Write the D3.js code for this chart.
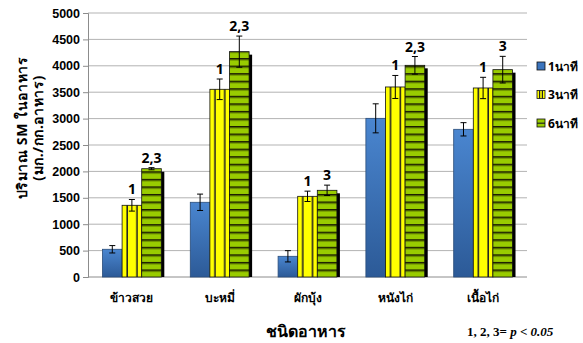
<!DOCTYPE html>
<html>
<head>
<meta charset="utf-8">
<script src="https://cdn.jsdelivr.net/npm/d3@7"></script>
<style>
  html, body { margin: 0; padding: 0; background: #fff; }
  svg { display: block; font-family: "Noto Sans", "DejaVu Sans", sans-serif; }
</style>
</head>
<body>
<svg id="chart" width="583" height="343"></svg>
<script>
// Foods and exposure times
const categories = ["ข้าวสวย", "บะหมี่", "ผักบุ้ง", "หนังไก่", "เนื้อไก่"];
const seriesNames = ["1นาที", "3นาที", "6นาที"];
// SM content (mg/kg food), mean per series
const values1 = [525, 1415, 392, 3005, 2797];
const values3 = [1358, 3555, 1528, 3599, 3580];
const values6 = [2051, 4268, 1642, 4009, 3927];
// error bar half-widths
const errors1 = [70, 155, 107, 275, 126];
const errors3 = [110, 195, 98, 218, 202];
const errors6 = [20, 295, 98, 167, 252];
// significance labels
const sig3 = ["1", "1", "1", "1", "1"];
const sig6 = ["2,3", "2,3", "3", "2,3", "3"];
const yTicks = [0, 500, 1000, 1500, 2000, 2500, 3000, 3500, 4000, 4500, 5000];

const svg = d3.select("#chart");
const margin = { left: 88, right: 56, top: 13, bottom: 66 };
const W = 583, H = 343;
const x0 = d3.scaleBand().domain(categories).range([margin.left, W - margin.right]).paddingInner(0.33).paddingOuter(0.165);
const x1 = d3.scaleBand().domain(seriesNames).range([0, x0.bandwidth()]).padding(0);
const y = d3.scaleLinear().domain([0, 5000]).range([H - margin.bottom, margin.top]);

const defs = svg.append("defs");
const blueGrad = defs.append("linearGradient").attr("id", "blueGrad").attr("x1", 0).attr("x2", 0).attr("y1", 0).attr("y2", 1);
blueGrad.append("stop").attr("offset", "0%").attr("stop-color", "#4a86d0");
blueGrad.append("stop").attr("offset", "100%").attr("stop-color", "#2c5a97");

// vertical stripes for the 3-minute bars
const ypat = defs.append("pattern").attr("id", "yellowStripes").attr("patternUnits", "objectBoundingBox")
  .attr("width", 1).attr("height", 1).attr("patternContentUnits", "objectBoundingBox");
ypat.append("rect").attr("width", 1).attr("height", 1).attr("fill", "#ffff00");
ypat.append("rect").attr("x", 0.22).attr("width", 0.08).attr("height", 1).attr("fill", "#222");
ypat.append("rect").attr("x", 0.72).attr("width", 0.08).attr("height", 1).attr("fill", "#222");

// horizontal stripes for the 6-minute bars
const gpat = defs.append("pattern").attr("id", "greenStripes").attr("patternUnits", "userSpaceOnUse")
  .attr("width", 10).attr("height", 7.55).attr("y", y(0));
gpat.append("rect").attr("width", 10).attr("height", 7.55).attr("fill", "#99cc00");
gpat.append("rect").attr("y", 0).attr("width", 10).attr("height", 1.6).attr("fill", "#1a1a00");
gpat.append("rect").attr("y", 1.6).attr("width", 10).attr("height", 0.8).attr("fill", "#5c7a00");

const fills = ["url(#blueGrad)", "url(#yellowStripes)", "url(#greenStripes)"];
const legendFills = ["#3b74bd", "url(#yellowLegend)", "url(#greenLegend)"];

// gridlines
svg.append("g").selectAll("line").data(yTicks.filter(d => d > 0)).join("line")
  .attr("x1", margin.left).attr("x2", W - margin.right)
  .attr("y1", d => y(d)).attr("y2", d => y(d))
  .attr("stroke", "#b3b3b3").attr("stroke-width", 1);

// y axis
const yAxis = svg.append("g").attr("transform", `translate(${margin.left},0)`)
  .call(d3.axisLeft(y).tickValues(yTicks).tickSize(5).tickPadding(3).tickFormat(d3.format("d")));
yAxis.select(".domain").attr("stroke", "#8c8c8c");
yAxis.selectAll(".tick line").attr("stroke", "#8c8c8c");
yAxis.selectAll("text").attr("font-family", "'Liberation Sans', Arial, sans-serif")
  .attr("font-size", 12.5).attr("font-weight", "bold").attr("fill", "#000");

// x axis
const xAxis = svg.append("g").attr("transform", `translate(0,${y(0)})`)
  .call(d3.axisBottom(x0).tickSize(0).tickPadding(16));
xAxis.select(".domain").attr("stroke", "#8c8c8c").attr("d", `M${margin.left},0H${W - margin.right}`);
xAxis.selectAll("text").attr("font-size", 12).attr("font-weight", "bold").attr("fill", "#000");

const seriesVals = [values1, values3, values6];
const seriesErr = [errors1, errors3, errors6];
const rows = [];
categories.forEach((c, i) => seriesNames.forEach((s, j) => rows.push({ c, s, j, v: seriesVals[j][i], e: seriesErr[j][i], i })));

const bw = x1.bandwidth();
const bars = svg.append("g");
// shadows
bars.selectAll("rect.shadow").data(rows.filter(d => d.j === 2)).join("rect")
  .attr("class", "shadow")
  .attr("x", d => x0(d.c) + x1(d.s) + 3).attr("y", d => y(d.v) + 3)
  .attr("width", bw).attr("height", d => y(0) - y(d.v) - 3)
  .attr("fill", "#000");
bars.selectAll("rect.bar").data(rows).join("rect")
  .attr("class", "bar")
  .attr("x", d => x0(d.c) + x1(d.s)).attr("y", d => y(d.v))
  .attr("width", bw).attr("height", d => y(0) - y(d.v))
  .attr("fill", d => fills[d.j])
  .attr("stroke", d => d.j === 0 ? "#2a4d7a" : "#111").attr("stroke-width", 0.8);

// error bars
const eb = svg.append("g").attr("stroke", "#000").attr("stroke-width", 1);
rows.forEach(d => {
  const cx = x0(d.c) + x1(d.s) + bw / 2;
  eb.append("line").attr("x1", cx).attr("x2", cx).attr("y1", y(d.v + d.e)).attr("y2", y(d.v - d.e));
  eb.append("line").attr("x1", cx - 3).attr("x2", cx + 3).attr("y1", y(d.v + d.e)).attr("y2", y(d.v + d.e));
  eb.append("line").attr("x1", cx - 3).attr("x2", cx + 3).attr("y1", y(d.v - d.e)).attr("y2", y(d.v - d.e));
});

// significance labels
const sigRows = [];
categories.forEach((c, i) => {
  sigRows.push({ c, s: seriesNames[1], top: values3[i] + errors3[i], t: sig3[i] });
  sigRows.push({ c, s: seriesNames[2], top: values6[i] + errors6[i], t: sig6[i] });
});
svg.append("g").selectAll("text").data(sigRows).join("text")
  .attr("x", d => x0(d.c) + x1(d.s) + bw / 2)
  .attr("y", d => y(d.top) - 5)
  .attr("text-anchor", "middle").attr("font-size", 14).attr("font-weight", "bold")
  .text(d => d.t);

// legend swatches
const yl = defs.append("pattern").attr("id", "yellowLegend").attr("patternUnits", "objectBoundingBox")
  .attr("width", 1).attr("height", 1).attr("patternContentUnits", "objectBoundingBox");
yl.append("rect").attr("width", 1).attr("height", 1).attr("fill", "#ffff00");
yl.append("rect").attr("x", 0.25).attr("width", 0.15).attr("height", 1).attr("fill", "#222");
yl.append("rect").attr("x", 0.6).attr("width", 0.15).attr("height", 1).attr("fill", "#222");
const gl = defs.append("pattern").attr("id", "greenLegend").attr("patternUnits", "objectBoundingBox")
  .attr("width", 1).attr("height", 1).attr("patternContentUnits", "objectBoundingBox");
gl.append("rect").attr("width", 1).attr("height", 1).attr("fill", "#99cc00");
gl.append("rect").attr("y", 0.45).attr("width", 1).attr("height", 0.15).attr("fill", "#222");

const legend = svg.append("g").attr("transform", "translate(537,62)");
seriesNames.forEach((s, j) => {
  const g = legend.append("g").attr("transform", `translate(0,${j * 28.5})`);
  g.append("rect").attr("width", 8).attr("height", 8).attr("fill", legendFills[j]).attr("stroke", "#111").attr("stroke-width", 0.8);
  g.append("text").attr("x", 11).attr("y", 8.5).attr("font-size", 12).attr("font-weight", "bold").text(s);
});

// axis titles
const yt = svg.append("text").attr("transform", "translate(27,128) rotate(-90)")
  .attr("text-anchor", "middle").attr("font-size", 14).attr("font-weight", "bold").attr("letter-spacing", 0.6);
yt.append("tspan").attr("x", 0).attr("dy", 0).text("ปริมาณ SM ในอาหาร");
yt.append("tspan").attr("x", 0).attr("dy", 16).text("(มก./กก.อาหาร)");

svg.append("text").attr("x", 306).attr("y", 337).attr("text-anchor", "middle")
  .attr("font-size", 16).attr("font-weight", "bold").text("ชนิดอาหาร");

const note = svg.append("text").attr("x", 467).attr("y", 336)
  .attr("font-family", "'Liberation Serif', 'DejaVu Serif', serif").attr("font-size", 13).attr("font-weight", "bold");
note.append("tspan").text("1, 2, 3= ");
note.append("tspan").attr("font-style", "italic").text("p < 0.05");
</script>
</body>
</html>
